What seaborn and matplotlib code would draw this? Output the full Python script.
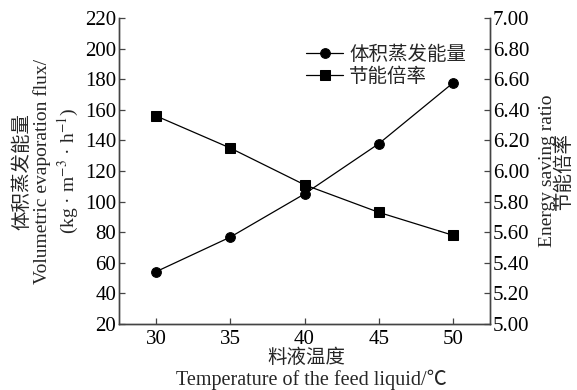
import matplotlib
matplotlib.use("Agg")
import matplotlib.pyplot as plt
import pandas as pd
import seaborn as sns

# ── data ───────────────────────────────────────────────────────────────────────
temperature = [30, 35, 40, 45, 50]
evaporation_flux = [54.2, 76.8, 105.0, 137.8, 177.5]
energy_ratio = [6.36, 6.15, 5.91, 5.73, 5.58]

left_ticks = list(range(20, 221, 20))
right_ticks = [5.0, 5.2, 5.4, 5.6, 5.8, 6.0, 6.2, 6.4, 6.6, 6.8, 7.0]

sns.set_theme(style="ticks")
FONTS = ["Liberation Serif", "Noto Sans CJK SC", "DejaVu Sans"]
plt.rcParams["font.family"] = FONTS
plt.rcParams["mathtext.fontset"] = "stix"
plt.rcParams["axes.unicode_minus"] = False

df = pd.DataFrame({"t": temperature, "flux": evaporation_flux, "ratio": energy_ratio})

fig = plt.figure(figsize=(5.77, 3.9), dpi=100)
ax = fig.add_axes([119 / 577, 1 - 324 / 390, (490 - 119) / 577, (324 - 18) / 390])
ax2 = ax.twinx()

sns.lineplot(data=df, x="t", y="flux", ax=ax, color="black", marker="o",
             markersize=7, linewidth=0.9, markeredgecolor="black", legend=False)
sns.lineplot(data=df, x="t", y="ratio", ax=ax2, color="black", marker="s",
             markersize=7, linewidth=0.9, markeredgecolor="black", legend=False)

ax.set_xlim(27.5, 52.5)
ax.set_ylim(20, 220)
ax2.set_ylim(5.0, 7.0)
ax.set_xticks(temperature)
ax.set_yticks(left_ticks)
ax2.set_yticks(right_ticks)
ax2.set_yticklabels([f"{v:.2f}" for v in right_ticks])
ax.set_xlabel("")
ax.set_ylabel("")
ax2.set_ylabel("")

for a in (ax, ax2):
    a.spines["top"].set_visible(False)
    for s in a.spines.values():
        s.set_color("#444444")
        s.set_linewidth(1.0)
    a.tick_params(direction="in", length=4, width=0.9, colors="#444444",
                  labelcolor="black", labelsize=15)
ax.tick_params(axis="x", pad=4)
ax.tick_params(axis="y", pad=2)
ax2.tick_params(axis="y", pad=2)

handles = ax.get_lines()[:1] + ax2.get_lines()[:1]
ax.legend(handles, ["体积蒸发能量", "节能倍率"], loc="upper right",
          bbox_to_anchor=(0.972, 0.955), frameon=False, fontsize=14,
          handlelength=1.9, handletextpad=0.3, labelspacing=0.2,
          borderaxespad=0.3)

# axis titles (all lines centred on the axes' vertical middle)
mid_y = 390 - 171
fig.text(22, mid_y, "体积蒸发能量", rotation=90, ha="center", va="center",
         fontsize=14, family=FONTS, transform=None)
fig.text(42, mid_y, "Volumetric evaporation flux/", rotation=90, ha="center",
         va="center", fontsize=14, family=FONTS, transform=None)
fig.text(68, mid_y, r"(kg · m$^{-3}$ · h$^{-1}$)", rotation=90, ha="center",
         va="center", fontsize=14, family=FONTS, transform=None)

fig.text(548, mid_y, "Energy saving ratio", rotation=90, ha="center",
         va="center", fontsize=14, family=FONTS, transform=None)
fig.text(564, mid_y, "节能倍率", rotation=90, ha="center", va="center",
         fontsize=14, family=FONTS, transform=None)

fig.text(306, 390 - 358, "料液温度", ha="center", va="center", fontsize=14,
         family=FONTS, transform=None)
fig.text(311, 390 - 380, "Temperature of the feed liquid/℃", ha="center",
         va="center", fontsize=14.5, family=FONTS, transform=None)

fig.savefig("out.png", dpi=100)
